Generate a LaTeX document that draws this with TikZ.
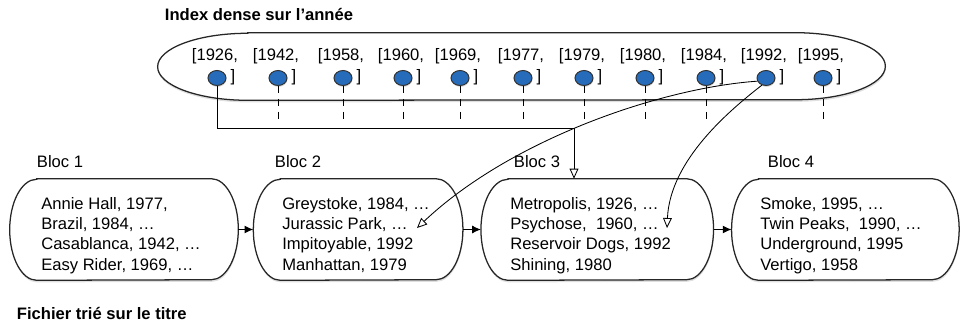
\documentclass[tikz,border=0pt]{standalone}
\usepackage{fontspec}
\setmainfont{Liberation Sans}
\usepackage{tikz}
\usetikzlibrary{positioning, arrows.meta, shapes.geometric, shadows}
\definecolor{dotblue}{RGB}{38,108,186}

% outline with elliptic ends around a node: #1 node, #2 x radius, #3 y radius
\newcommand{\capsule}[3]{%
	\draw[frame] ([xshift=#2]#1.north west) -- ([xshift=-#2]#1.north east)
		arc[start angle=90, end angle=-90, x radius=#2, y radius=#3]
		-- ([xshift=#2]#1.south west)
		arc[start angle=270, end angle=90, x radius=#2, y radius=#3] -- cycle;}

\begin{document}
\begin{tikzpicture}[x=0.025cm, y=0.025cm]
\tikzset{
every node/.style={font=\fontsize{11.8}{14.4}\selectfont}, % one size for all the texts
title/.style={font=\fontsize{11.8}{14.4}\selectfont\bfseries, anchor=base west},
frame/.style={draw=black!85, line width=0.9pt, fill=white, drop shadow={opacity=0.25, shadow xshift=0.3pt, shadow yshift=-1.5pt}}, % index and blocks
box/.style={rectangle, inner sep=0pt, minimum height=2.525cm}, % room taken by a block
lines/.style={align=left, inner sep=0pt, anchor=north west}, % records of a block
dot/.style={ellipse, draw=black!80, line width=0.7pt, fill=dotblue, inner sep=0pt, minimum width=0.45cm, minimum height=0.375cm, drop shadow={opacity=0.3, shadow xshift=0.3pt, shadow yshift=-1pt}},
stub/.style={line width=0.6pt, dash pattern=on 0.175cm off 0.15cm}, % pointers not followed
ptr/.style={-{Triangle[open, length=0.25cm, width=0.22cm]}, line width=0.6pt},
flow/.style={-{Latex[length=0.22cm, width=0.2cm]}, line width=0.8pt}, % next block
}
	\useasboundingbox (0,0) rectangle (960,-321);

	% the dense index
	\node[title] (tidx) at (160,-21) {Index dense sur l’année};
	\node[box, minimum width=18.175cm, minimum height=1.675cm] (idx) at (521.5,-66.5) {};
	\capsule{idx}{2.25cm}{0.8375cm}
	\foreach \yr/\px in {1926/217, 1942/278, 1958/343, 1960/403, 1969/460, 1977/523, 1979/584, 1980/645, 1984/706, 1992/766, 1995/823} {
		\node[dot] (d\yr) at (\px,-78) {};
		\node[anchor=base] (y\yr) at (\px-2,-61) {[\yr,};
		\node[anchor=base] (k\yr) at (\px+16,-82) {]};
	}
	\foreach \yr in {1942,1958,1960,1969,1977,1979,1980,1984,1995}
		\draw[stub] (d\yr.south) -- ++(0,-33);

	% the sorted file
	\node[box, minimum width=5.7cm] (b1) at (124,-229.5) {};
	\node[box, minimum width=5.225cm, right=0.375cm of b1] (b2) {};
	\node[box, minimum width=5.8cm, right=0.45cm of b2] (b3) {};
	\node[box, minimum width=5.675cm, right=0.45cm of b3] (b4) {};
	\foreach \b in {b1,b2,b3,b4} {
		\capsule{\b}{0.675cm}{1.2625cm}
	}

	\node[anchor=base west] (l1) at (32,-168) {Bloc 1};
	\node[anchor=base west] (l2) at (270,-168) {Bloc 2};
	\node[anchor=base west] (l3) at (509,-168) {Bloc 3};
	\node[anchor=base west] (l4) at (763,-168) {Bloc 4};

	\node[lines] (t1) at (41,-197) {Annie Hall, 1977,\\Brazil, 1984, …\\Casablanca, 1942, …\\Easy Rider, 1969, …};
	\node[lines] (t2) at (282,-197) {Greystoke, 1984, …\\Jurassic Park, …\\Impitoyable, 1992\\Manhattan, 1979};
	\node[lines] (t3) at (510,-197) {Metropolis, 1926, …\\Psychose,\ \ 1960, …\\Reservoir Dogs, 1992\\Shining, 1980};
	\node[lines] (t4) at (760,-197) {Smoke, 1995, …\\Twin Peaks,\ \ 1990, …\\Underground, 1995\\Vertigo, 1958};

	\node[title] (tfile) at (12,-319) {Fichier trié sur le titre};

	\draw[flow] (b1) -- (b2);
	\draw[flow] (b2) -- (b3);
	\draw[flow] (b3) -- (b4);

	% pointers from the index into the blocks
	\coordinate (bend) at (574,-128);
	\coordinate (jpark) at (417,-228);
	\coordinate (psych) at (667,-228);
	\draw[ptr] (d1926.south) |- (bend) -- (bend |- b3.north);
	\draw[ptr] (d1992.200) .. controls (660,-88) and (510,-140) .. (jpark);
	\draw[ptr] (d1992.240) .. controls (730,-110) and (670,-160) .. (psych);
\end{tikzpicture}
\end{document}
